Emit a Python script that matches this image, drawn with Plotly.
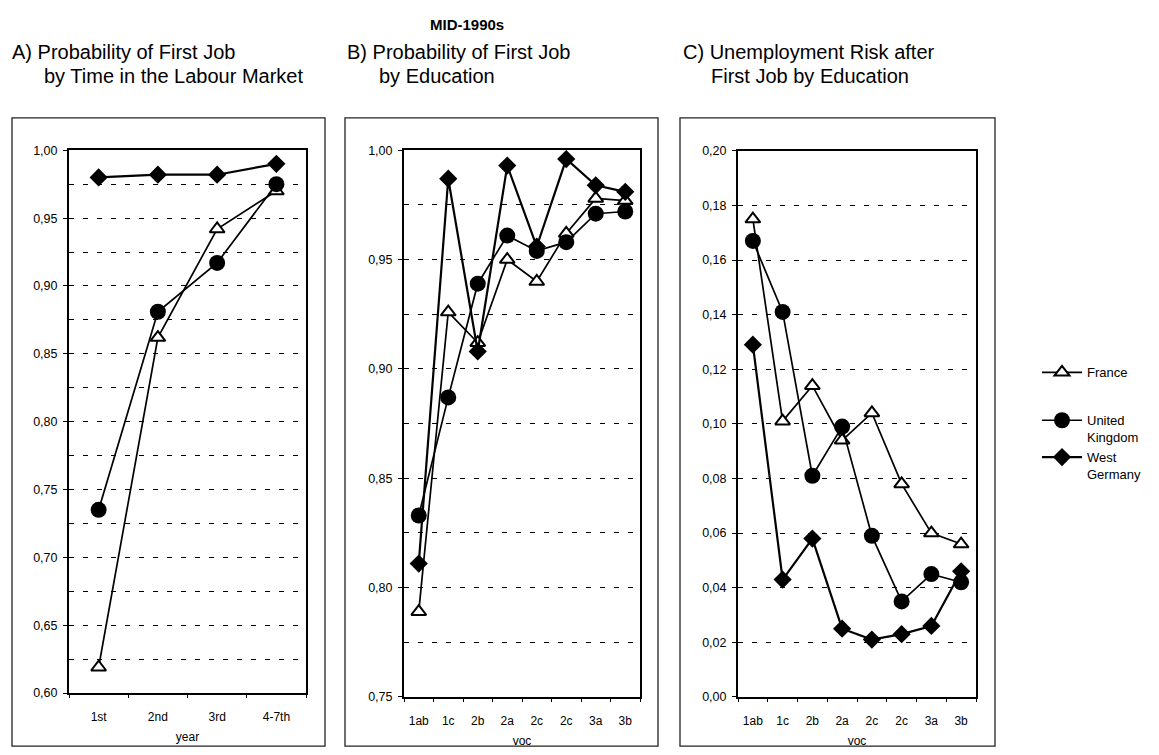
import plotly.graph_objects as go

W, H = 1159, 755

# ---- data -------------------------------------------------------------
series_names = ["France", "United<br>Kingdom", "West<br>Germany"]

year_labels = ["1st", "2nd", "3rd", "4-7th"]
a_france = [0.619, 0.862, 0.942, 0.970]
a_uk = [0.735, 0.881, 0.917, 0.975]
a_wg = [0.980, 0.982, 0.982, 0.990]

voc_labels = ["1ab", "1c", "2b", "2a", "2c", "2c", "3a", "3b"]
b_france = [0.789, 0.926, 0.912, 0.950, 0.940, 0.962, 0.978, 0.977]
b_uk = [0.833, 0.887, 0.939, 0.961, 0.954, 0.958, 0.971, 0.972]
b_wg = [0.811, 0.987, 0.908, 0.993, 0.956, 0.996, 0.984, 0.981]

c_france = [0.175, 0.101, 0.114, 0.094, 0.104, 0.078, 0.060, 0.056]
c_uk = [0.167, 0.141, 0.081, 0.099, 0.059, 0.035, 0.045, 0.042]
c_wg = [0.129, 0.043, 0.058, 0.025, 0.021, 0.023, 0.026, 0.046]

# ---- styling ----------------------------------------------------------
FONT = "Arial, Liberation Sans, sans-serif"
TITLE_FONT = "Arial, Liberation Sans, sans-serif"
DASH = "5px,9px"

styles = [
    dict(marker=dict(symbol="triangle-up", size=13, color="white",
                     line=dict(color="black", width=2)),
         line=dict(color="black", width=1.7)),
    dict(marker=dict(symbol="circle", size=16, color="black",
                     line=dict(color="black", width=0)),
         line=dict(color="black", width=1.7)),
    dict(marker=dict(symbol="diamond", size=14, color="black",
                     line=dict(color="black", width=0)),
         line=dict(color="black", width=2.2)),
]
# France sits in its own legend group; the two two-line entries share one
groups = ["g0", "g1", "g1"]


def px_x(v):
    return v / W


def px_y(v):
    return 1 - v / H


fig = go.Figure()

panels = [
    ("x", "y", year_labels, [a_france, a_uk, a_wg], True),
    ("x2", "y2", voc_labels, [b_france, b_uk, b_wg], False),
    ("x3", "y3", voc_labels, [c_france, c_uk, c_wg], False),
]

for xa, ya, labels, vals, show in panels:
    xs = list(range(len(labels)))
    for i, (name, ys) in enumerate(zip(series_names, vals)):
        fig.add_trace(go.Scatter(
            x=xs, y=ys, mode="lines+markers", name=name,
            xaxis=xa, yaxis=ya, showlegend=show, legendgroup=groups[i],
            cliponaxis=False, **styles[i]))

common_x = dict(
    showgrid=False, zeroline=False, showline=True, linecolor="black",
    linewidth=2, mirror=True, ticks="", ticklabelstandoff=12,
    tickfont=dict(family=FONT, size=12, color="black"),
    title_font=dict(family=FONT, size=12, color="black"), title_standoff=9,
    minor=dict(ticks="outside", ticklen=3, tickcolor="black", tick0=-0.5, dtick=1),
)
common_y = dict(
    zeroline=False, showline=True, linecolor="black", linewidth=2, mirror=True,
    ticks="outside", ticklen=4, tickcolor="black", tickformat=".2f",
    ticklabelstandoff=3,
    tickfont=dict(family=FONT, size=12.5, color="black"),
    showgrid=True, gridcolor="black", gridwidth=1, griddash=DASH,
)

fig.update_layout(
    xaxis=dict(domain=[px_x(69), px_x(306)], anchor="y", range=[-0.5, 3.5],
               tickvals=list(range(4)), ticktext=year_labels,
               title_text="year", **common_x),
    yaxis=dict(domain=[px_y(699), px_y(146)], anchor="x", range=[0.60, 1.00],
               dtick=0.05, tick0=0.6,
               minor=dict(dtick=0.025, tick0=0.6, showgrid=True, gridcolor="black",
                          gridwidth=1, griddash=DASH),
               **common_y),
    xaxis2=dict(domain=[px_x(404), px_x(640)], anchor="y2", range=[-0.5, 7.5],
                tickvals=list(range(8)), ticktext=voc_labels,
                title_text="voc", **common_x),
    yaxis2=dict(domain=[px_y(703), px_y(146)], anchor="x2", range=[0.75, 1.00],
                dtick=0.05, tick0=0.75,
                minor=dict(dtick=0.025, tick0=0.75, showgrid=True, gridcolor="black",
                           gridwidth=1, griddash=DASH),
                **common_y),
    xaxis3=dict(domain=[px_x(738), px_x(976)], anchor="y3", range=[-0.5, 7.5],
                tickvals=list(range(8)), ticktext=voc_labels,
                title_text="voc", **common_x),
    yaxis3=dict(domain=[px_y(703), px_y(146.5)], anchor="x3", range=[0.0, 0.20],
                dtick=0.02, tick0=0.0, **common_y),
)

# panel frames
frames = [(12, 113, 325, 753), (345, 113, 658, 753), (680, 113, 995, 753)]
for x0, y0, x1, y1 in frames:
    fig.add_shape(type="rect", xref="paper", yref="paper",
                  x0=px_x(x0), x1=px_x(x1), y0=px_y(y1), y1=px_y(y0),
                  line=dict(color="#222", width=1.3), fillcolor="rgba(0,0,0,0)",
                  layer="below")

# titles
fig.add_annotation(text="<b>MID-1990s</b>", xref="paper", yref="paper",
                   x=px_x(467), y=px_y(18), xanchor="center", yanchor="middle",
                   showarrow=False, font=dict(family=FONT, size=15, color="black"))
titles = [
    (10, "A) Probability of First Job"), (42, "by Time in the Labour Market"),
    (345, "B) Probability of First Job"), (377, "by Education"),
    (681, "C) Unemployment Risk after"), (709, "First Job by Education"),
]
for k, (x, t) in enumerate(titles):
    fig.add_annotation(text=t, xref="paper", yref="paper",
                       x=px_x(x), y=px_y(46 if k % 2 == 0 else 70),
                       xanchor="left", yanchor="middle", showarrow=False,
                       font=dict(family=TITLE_FONT, size=20, color="black"))

fig.update_layout(
    width=W, height=H, margin=dict(l=0, r=0, t=0, b=0),
    paper_bgcolor="white", plot_bgcolor="white", separators=",.",
    showlegend=True,
    legend=dict(x=px_x(1037), y=px_y(357), xanchor="left", yanchor="top",
                font=dict(family=FONT, size=13, color="black"),
                valign="top", tracegroupgap=28, bgcolor="rgba(0,0,0,0)",
                itemwidth=40),
)

fig.write_html("out.html")
